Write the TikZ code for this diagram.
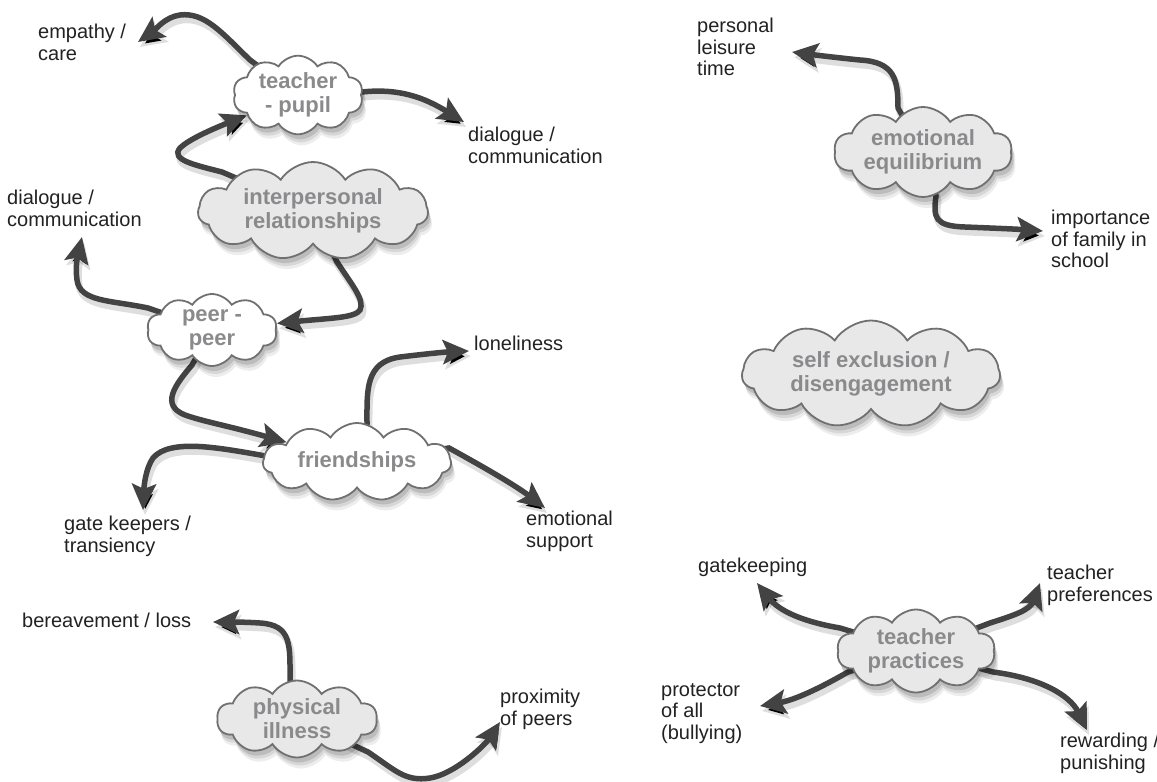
\documentclass[tikz,border=0pt]{standalone}
\usepackage{fontspec}
\setmainfont{Liberation Sans}
\usetikzlibrary{shapes.symbols,arrows.meta}
\definecolor{arrowc}{HTML}{434343}
\definecolor{cloudtext}{HTML}{8A8A8C}
\definecolor{cloudfill}{HTML}{E8E8E8}
\definecolor{cloudline}{HTML}{707070}
\definecolor{labeltext}{HTML}{222222}
\pgfdeclarelayer{bg}
\pgfdeclarelayer{paper}
\pgfsetlayers{paper,bg,main}
\begin{document}
\begin{tikzpicture}[x=1pt,y=-1pt,
  cloudbase/.style={cloud, cloud puffs=10, cloud puff arc=115, cloud ignores aspect,
    draw=cloudline, line width=1.8pt, inner sep=0pt, align=center,
    font=\bfseries\fontsize{22}{24}\selectfont, text=cloudtext,
    preaction={fill=black, fill opacity=.07, draw=none, transform canvas={shift={(4pt,-11pt)}}},
    preaction={fill=black, fill opacity=.09, draw=none, transform canvas={shift={(3pt,-8pt)}}},
    preaction={fill=black, fill opacity=.12, draw=none, transform canvas={shift={(2pt,-5pt)}}}},
  graycloud/.style={cloudbase, fill=cloudfill},
  whitecloud/.style={cloudbase, fill=white},
  lbl/.style={anchor=north west, inner sep=0pt, align=left, text=labeltext,
    font=\fontsize{20}{21.5}\selectfont},
  link/.style={draw=arrowc, line width=5.5pt, line cap=round,
    -{Stealth[length=26pt,width=24pt,inset=5pt]},
    preaction={draw=black, draw opacity=.13, line width=7pt, transform canvas={shift={(2pt,-5pt)}}}},
]
\useasboundingbox (0,0) rectangle (1157,782);
\begin{pgfonlayer}{paper}
\fill[white] (0,0) rectangle (1157,782);
\end{pgfonlayer}

% clouds
\node[whitecloud, minimum width=130pt, minimum height=76pt] (tp) at (298,95) {teacher\\- pupil};
\node[graycloud, cloud puffs=11, minimum width=230pt, minimum height=98pt] (ir) at (313,211) {interpersonal\\relationships};
\node[whitecloud, minimum width=130pt, minimum height=72pt] (pp) at (212,330) {peer -\\peer};
\node[whitecloud, cloud puffs=11, minimum width=188pt, minimum height=78pt] (fr) at (357,462) {friendships};
\node[graycloud, minimum width=178pt, minimum height=90pt] (ee) at (923,152) {emotional\\equilibrium};
\node[graycloud, cloud puffs=11, minimum width=258pt, minimum height=107pt] (se) at (871,374) {self exclusion /\\disengagement};
\node[graycloud, minimum width=158pt, minimum height=80pt] (tpr) at (916,651) {teacher\\practices};
\node[graycloud, minimum width=160pt, minimum height=77pt] (pi) at (297,719) {physical\\illness};

% labels
\node[lbl] (lempathy) at (38,24) {empathy /\\care};
\node[lbl] (ldialr) at (468,127) {dialogue /\\communication};
\node[lbl] (ldiall) at (7,190) {dialogue /\\communication};
\node[lbl] (llone) at (474,336) {loneliness};
\node[lbl] (lgate) at (64,516) {gate keepers /\\transiency};
\node[lbl] (lemo) at (526,511) {emotional\\support};
\node[lbl] (lleis) at (697,18) {personal\\leisure\\time};
\node[lbl] (lfam) at (1051,210) {importance\\of family in\\school};
\node[lbl] (lgk) at (698,558) {gatekeeping};
\node[lbl] (lpref) at (1047,565) {teacher\\preferences};
\node[lbl] (lber) at (22,613) {bereavement / loss};
\node[lbl] (lprox) at (500,689) {proximity\\of peers};
\node[lbl] (lprot) at (661,683) {protector\\of all\\(bullying)};
\node[lbl] (lrew) at (1060,733) {rewarding /\\punishing};

% free arrow ends
\coordinate (e1) at (138,42);
\coordinate (e3) at (464,122);
\coordinate (e5) at (82,237);
\coordinate (e7) at (469,351);
\coordinate (e8) at (143,510);
\coordinate (e9) at (545,508);
\coordinate (e10) at (792,52);
\coordinate (e11) at (1043,231);
\coordinate (e12) at (757,583);
\coordinate (e13) at (1040,583);
\coordinate (e14) at (760,706);
\coordinate (e15) at (1087,730);
\coordinate (e16) at (213,622);
\coordinate (e17) at (500,722);

\begin{pgfonlayer}{bg}
\draw[link] (tp.center) -- (250,60) .. controls (222,33) and (205,12) .. (180,15) .. controls (165,17) and (155,30) .. (e1);
\draw[link] (ir.center) -- (222,172) .. controls (195,165) and (170,160) .. (180,148) .. controls (188,140) and (210,130) .. (tp);
\draw[link] (tp.center) -- (362,92) .. controls (400,88) and (425,98) .. (e3);
\draw[link] (ir.center) -- (337,262) .. controls (352,285) and (365,300) .. (360,310) .. controls (355,318) and (330,318) .. (pp);
\draw[link] (pp.center) -- (148,308) .. controls (110,300) and (80,302) .. (77,280) .. controls (75,265) and (78,255) .. (e5);
\draw[link] (pp.center) -- (192,365) .. controls (175,385) and (160,405) .. (185,415) .. controls (205,422) and (225,425) .. (fr);
\draw[link] (fr.center) -- (367,424) .. controls (367,390) and (365,362) .. (400,357) .. controls (425,354) and (445,352) .. (e7);
\draw[link] (fr.center) -- (266,456) .. controls (220,448) and (170,438) .. (153,458) .. controls (146,468) and (144,485) .. (e8);
\draw[link] (fr.center) -- (449,448) .. controls (480,465) and (515,485) .. (e9);
\draw[link] (ee.center) -- (898,108) .. controls (898,80) and (895,62) .. (860,60) .. controls (840,58) and (815,55) .. (e10);
\draw[link] (ee.center) -- (936,196) .. controls (933,218) and (935,226) .. (965,227) .. controls (990,228) and (1015,229) .. (e11);
\draw[link] (tpr.center) -- (840,628) .. controls (805,622) and (780,612) .. (e12);
\draw[link] (tpr.center) -- (990,623) .. controls (1015,615) and (1030,610) .. (e13);
\draw[link] (tpr.center) -- (848,672) .. controls (820,688) and (795,700) .. (e14);
\draw[link] (tpr.center) -- (993,672) .. controls (1040,678) and (1070,695) .. (e15);
\draw[link] (pi.center) -- (290,681) .. controls (290,645) and (292,625) .. (260,623) .. controls (245,622) and (232,622) .. (e16);
\draw[link] (pi.center) -- (368,752) .. controls (395,770) and (405,782) .. (430,778) .. controls (455,774) and (485,745) .. (e17);
\end{pgfonlayer}
\end{tikzpicture}
\end{document}
